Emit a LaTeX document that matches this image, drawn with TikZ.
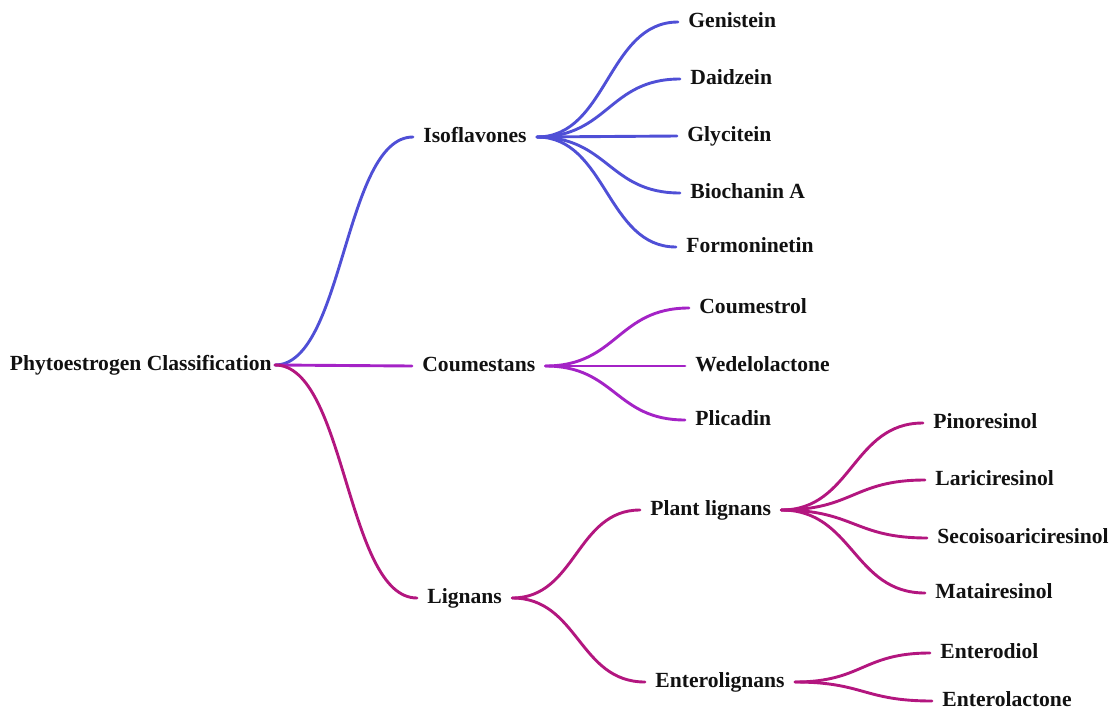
\documentclass[tikz,border=0pt]{standalone}
\usepackage{fontspec}
\setmainfont{Liberation Serif}
\usepackage{tikz}
\usetikzlibrary{calc}
\usepackage{xcolor}
\definecolor{phInk}{HTML}{111111}
\definecolor{phIso}{HTML}{4F4FD6}
\definecolor{phCoum}{HTML}{A423C6}
\definecolor{phLign}{HTML}{B3167F}
\tikzset{
  term/.style   = {font=\bfseries\fontsize{10.8}{13}\selectfont, text=phInk,
                   inner xsep=5pt, inner ysep=0pt, text height=1.45ex,
                   text depth=0.25ex, anchor=west},
  rootterm/.style = {term, inner xsep=1.5pt, anchor=east},
  % a branch leaves and arrives level, bending half way across
  link/.style   = {line width=1.45pt, line cap=round, color=#1,
                   to path={let \p1=(\tikztostart), \p2=(\tikztotarget) in
                     .. controls ({(\x1+\x2)/2},\y1) and ({(\x1+\x2)/2},\y2)
                     .. (\tikztotarget)}},
  link/.default = phIso,
}

\begin{document}
\begin{tikzpicture}[x=0.5pt, y=-0.5pt]
\useasboundingbox (0,0) rectangle (1110,713);

% ===================== the three families ============================
\node[rootterm] (root) at (275,365) {Phytoestrogen Classification};
\node[term] (iso)  at (413,137) {Isoflavones};
\node[term] (coum) at (412,366) {Coumestans};
\node[term] (lign) at (417,598) {Lignans};

\draw[link=phIso]  (root.east) to (iso.west);
\draw[link=phCoum] (root.east) to (coum.west);
\draw[link=phLign] (root.east) to (lign.west);

% ===================== isoflavones ===================================
\node[term] (gen)   at (678,22)  {Genistein};
\node[term] (daid)  at (680,79)  {Daidzein};
\node[term] (glyc)  at (677,136) {Glycitein};
\node[term] (bioch) at (680,193) {Biochanin A};
\node[term] (formo) at (676,247) {Formoninetin};
\foreach \c in {gen,daid,glyc,bioch,formo}
  \draw[link=phIso] (iso.east) to (\c.west);

% ===================== coumestans ====================================
\node[term] (coumes) at (689,308) {Coumestrol};
\node[term] (wedel)  at (685,366) {Wedelolactone};
\node[term] (plic)   at (685,420) {Plicadin};
\foreach \c in {coumes,wedel,plic}
  \draw[link=phCoum] (coum.east) to (\c.west);

% ===================== lignans =======================================
\node[term] (plant)  at (640,510) {Plant lignans};
\node[term] (entero) at (645,682) {Enterolignans};
\draw[link=phLign] (lign.east) to (plant.west);
\draw[link=phLign] (lign.east) to (entero.west);

\node[term] (pino) at (923,423) {Pinoresinol};
\node[term] (lari) at (925,480) {Lariciresinol};
\node[term] (seco) at (927,538) {Secoisoariciresinol};
\node[term] (mata) at (925,593) {Matairesinol};
\foreach \c in {pino,lari,seco,mata}
  \draw[link=phLign] (plant.east) to (\c.west);

\node[term] (diol) at (930,653) {Enterodiol};
\node[term] (lact) at (932,701) {Enterolactone};
\foreach \c in {diol,lact}
  \draw[link=phLign] (entero.east) to (\c.west);

\end{tikzpicture}
\end{document}
